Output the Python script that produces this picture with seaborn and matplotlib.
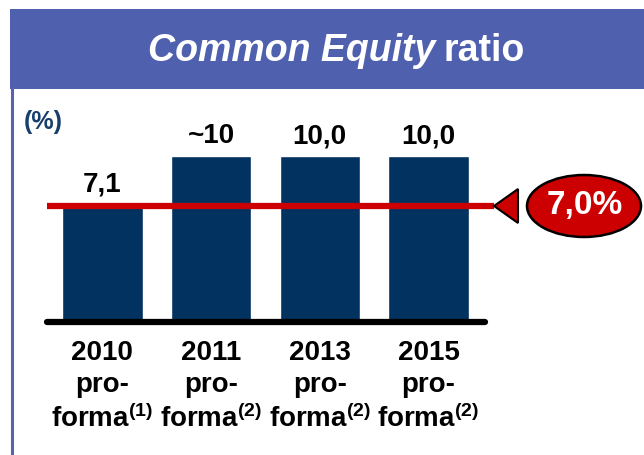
import matplotlib
matplotlib.use("Agg")
import matplotlib.pyplot as plt
import seaborn as sns
import pandas as pd
from matplotlib.patches import Rectangle, Ellipse, Polygon
from matplotlib.lines import Line2D

sns.set_theme(style="white")
plt.rcParams['font.family'] = ['Liberation Sans', 'DejaVu Sans']
plt.rcParams['mathtext.fontset'] = 'custom'
plt.rcParams['mathtext.rm'] = 'Liberation Sans:bold'
plt.rcParams['mathtext.bf'] = 'Liberation Sans:bold'
plt.rcParams['mathtext.it'] = 'Liberation Sans:bold'

# Data
categories = ["2010", "2011", "2013", "2015"]
values = [7.1, 10.0, 10.0, 10.0]
value_labels = ["7,1", "~10", "10,0", "10,0"]
notes = ["(1)", "(2)", "(2)", "(2)"]
threshold = 7.0
threshold_label = "7,0%"

W, H = 644, 455
fig = plt.figure(figsize=(W / 100, H / 100), dpi=100)

def fx(px):
    return px / W

def fy(py):
    return 1 - py / H

# Frame and title band
band_col = "#4F61AE"
fig.patches.append(Rectangle((fx(10), fy(89)), fx(700), 80 / H, transform=fig.transFigure,
                             facecolor=band_col, edgecolor="none", zorder=0))
fig.lines.append(Line2D([fx(12.5), fx(12.5)], [fy(89), fy(460)], transform=fig.transFigure,
                        color="#5563B0", lw=2.2))
# Title composed of italic part + bold part
t1 = fig.text(fx(148), fy(51), "Common Equity", color="white", fontsize=27,
              fontweight="bold", fontstyle="italic", va="center", ha="left")
fig.canvas.draw()
bb = t1.get_window_extent()
fig.text(bb.x1 / W + fx(8), fy(51), "ratio", color="white", fontsize=27,
         fontweight="bold", va="center", ha="left")

# Axes: baseline at y=322 px, x from 47 to 485 px
ymax = 12.0
px_per_unit = 16.6
ax_top_px = 322 - ymax * px_per_unit
ax = fig.add_axes([fx(47), fy(322), fx(485 - 47), (322 - ax_top_px) / H])

df = pd.DataFrame({"cat": categories, "val": values})
sns.barplot(data=df, x="cat", y="val", color="#02325F", width=0.74, saturation=1,
            ax=ax, zorder=2)
ax.set_xlim(-0.51, 3.52)
ax.set_ylim(0, ymax)
ax.set_xlabel("")
ax.set_ylabel("")
ax.set_yticks([])
for s in ["top", "right", "left", "bottom"]:
    ax.spines[s].set_visible(False)
ax.patch.set_alpha(0)

# Baseline
ax.plot([-0.51, 3.52], [0, 0], color="black", lw=4.5, solid_capstyle="round",
        clip_on=False, zorder=4)

# Threshold line extending to arrow tip at x=494 px
x_end = -0.51 + (494 - 47) / (485 - 47) * (3.52 + 0.51)
ax.plot([-0.51, x_end], [threshold, threshold], color="#CC0000", lw=4.5,
        solid_capstyle="butt", clip_on=False, zorder=5)

# Value labels
for i, (v, lab) in enumerate(zip(values, value_labels)):
    ax.text(i, v + 0.4, lab, ha="center", va="bottom", fontsize=20,
            fontweight="bold", color="black")

# Tick labels
ax.set_xticks(range(len(categories)))
ax.set_xticklabels([f"{c}\npro-\nforma$^{{{n}}}$" for c, n in zip(categories, notes)],
                   fontsize=20, fontweight="bold", color="black", linespacing=1.3)
ax.tick_params(axis="x", length=0, pad=13)

# (%) label
fig.text(fx(24), fy(122), "(%)", fontsize=18, fontweight="bold", color="#173F6E",
         ha="left", va="center")

# Arrow triangle and ellipse
tri = Polygon([[fx(494), fy(206)], [fx(518), fy(189)], [fx(518), fy(223)]],
              closed=True, transform=fig.transFigure, facecolor="#CC0000",
              edgecolor="black", lw=1.5, zorder=6)
fig.patches.append(tri)
ell = Ellipse((fx(584), fy(206)), fx(114), 62 / H, transform=fig.transFigure,
              facecolor="#CC0000", edgecolor="black", lw=1.8, zorder=6)
fig.patches.append(ell)
fig.text(fx(585), fy(206), threshold_label, color="white", fontsize=24,
         fontweight="bold", ha="center", va="center", zorder=7)

fig.savefig("out.png", dpi=100)
